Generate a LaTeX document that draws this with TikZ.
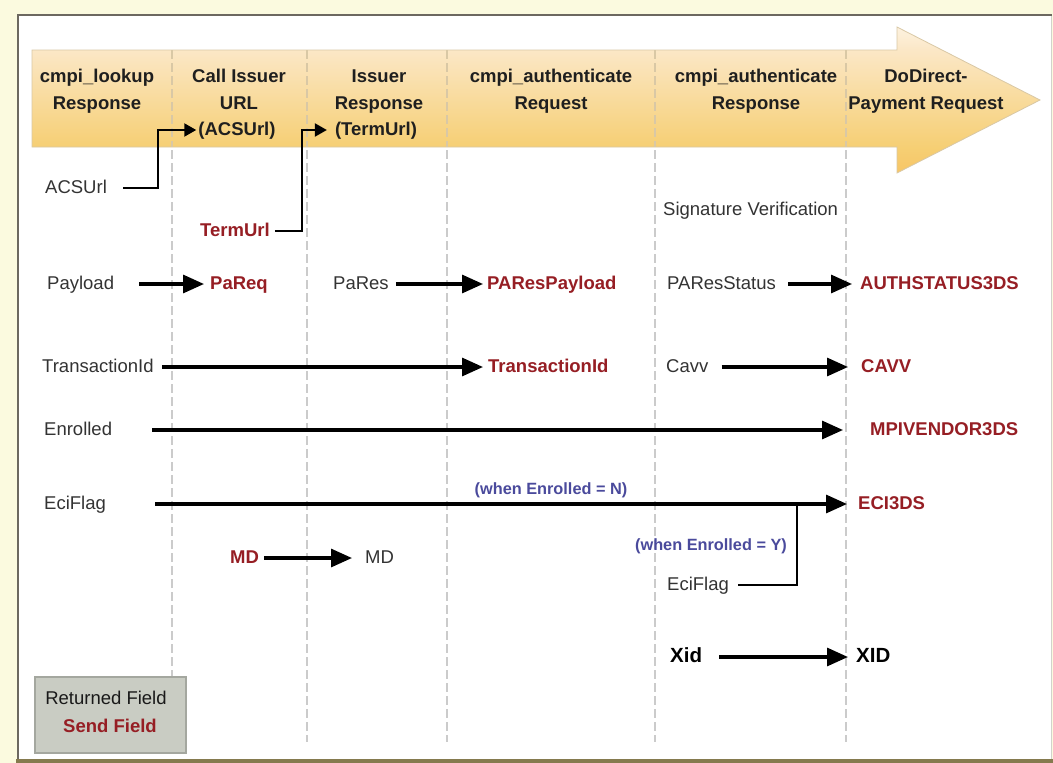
\documentclass[tikz,border=0pt]{standalone}
\usepackage{fontspec}
\setmainfont{Liberation Sans}
\usetikzlibrary{arrows.meta}

\definecolor{pagebg}{HTML}{FBFADF}
\definecolor{framedark}{HTML}{6C6860}
\definecolor{frameolive}{HTML}{857A4E}
\definecolor{frameright}{HTML}{D2D2CC}
\definecolor{sendred}{HTML}{961E24}
\definecolor{notebl}{HTML}{4A4A9C}
\definecolor{labelgray}{HTML}{333333}
\definecolor{divgray}{HTML}{CBCBCB}
\definecolor{bandtop}{HTML}{FBE7C6}
\definecolor{bandbot}{HTML}{F6CF74}
\definecolor{bandedge}{HTML}{D9C8A5}
\definecolor{legendfill}{HTML}{C9CCC3}
\definecolor{legenddraw}{HTML}{A4A79F}

% vertical shading of the process arrow: golden at the bottom, pale peach on top
\pgfdeclareverticalshading{bandshade}{100bp}{%
  color(0bp)=(bandbot!88!orange); color(25bp)=(bandbot!88!orange);
  color(33.9bp)=(bandbot); color(67.1bp)=(bandtop);
  color(75bp)=(bandtop!55!white); color(100bp)=(bandtop!55!white)}

\tikzset{
  lbl/.style={font=\fontsize{18.5}{22}\selectfont, text=labelgray,
    inner sep=0pt, text height=13.5pt, text depth=3.5pt, anchor=west},
  snd/.style={lbl, text=sendred, font=\fontsize{18.5}{22}\selectfont\bfseries},
  big/.style={lbl, text=black, font=\fontsize{20.5}{24}\selectfont\bfseries,
    text height=14.5pt, text depth=4pt},
  hdr/.style={font=\fontsize{18.5}{22}\selectfont\bfseries, text=black!88,
    inner sep=0pt, text height=13.5pt, text depth=3.5pt},
  note/.style={font=\fontsize{16.3}{20}\selectfont\bfseries, text=notebl,
    inner sep=0pt, text height=12pt, text depth=3.5pt},
  flow/.style={line width=3.2pt, -{Triangle[length=21pt,width=18pt]}},
  link/.style={line width=2.2pt, -{Triangle[length=12pt,width=13pt]}},
  joinline/.style={line width=2.2pt},
  divline/.style={line width=1.3pt, divgray, dash pattern=on 9pt off 4pt},
  divband/.style={line width=1.1pt, bandedge, dash pattern=on 9pt off 4pt},
}

\begin{document}
\begin{tikzpicture}[x=1pt, y=-1pt]
\useasboundingbox (0,0) rectangle (1053,763);

% page and frame
\fill[pagebg] (0,0) rectangle (1053,763);
\fill[white] (18,15) rectangle (1051,759);
\draw[frameright, line width=1pt] (1051,15) -- (1051,759);
\draw[frameolive, line width=4pt] (16,760.5) -- (1053,760.5);
\draw[framedark, line width=2.5pt] (18,759) -- (18,15) -- (1052,15);

% process arrow
\shade[shading=bandshade, draw=bandedge, line width=0.8pt]
  (32,50) -- (897,50) -- (897,27) -- (1040,100) -- (897,173)
  -- (897,147) -- (32,147) -- cycle;

% column dividers
\foreach \cx in {172,307,447,655,846} {
  \draw[divband] (\cx,50) -- (\cx,147);
  \draw[divline] (\cx,150) -- (\cx,742);
}

% column headings
\node[hdr] (h1a) at (97,77)  {cmpi\_lookup};
\node[hdr] (h1b) at (97,104) {Response};
\node[hdr] (h2a) at (239,77)  {Call Issuer};
\node[hdr] (h2b) at (239,104) {URL};
\node[hdr] (h2c) at (237,130) {(ACSUrl)};
\node[hdr] (h3a) at (379,77)  {Issuer};
\node[hdr] (h3b) at (379,104) {Response};
\node[hdr] (h3c) at (376,130) {(TermUrl)};
\node[hdr] (h4a) at (551,77)  {cmpi\_authenticate};
\node[hdr] (h4b) at (551,104) {Request};
\node[hdr] (h5a) at (756,77)  {cmpi\_authenticate};
\node[hdr] (h5b) at (756,104) {Response};
\node[hdr] (h6a) at (926,77)  {DoDirect-};
\node[hdr] (h6b) at (926,104) {Payment Request};

% fields
\node[lbl] (acsurl)   at (45,188)  {ACSUrl};
\node[snd] (termurl)  at (200,231) {TermUrl};
\node[lbl] (sigver)   at (663,210) {Signature Verification};

\node[lbl] (payload)  at (47,284)  {Payload};
\node[snd] (pareq)    at (210,284) {PaReq};
\node[lbl] (pares)    at (333,284) {PaRes};
\node[snd] (parespl)  at (487,284) {PAResPayload};
\node[lbl] (resstat)  at (667,284) {PAResStatus};
\node[snd] (authst)   at (860,284) {AUTHSTATUS3DS};

\node[lbl] (txid)     at (42,367)  {TransactionId};
\node[snd] (txidsend) at (488,367) {TransactionId};
\node[lbl] (cavv)     at (666,367) {Cavv};
\node[snd] (cavvsend) at (861,367) {CAVV};

\node[lbl] (enrolled) at (44,430)  {Enrolled};
\node[snd] (mpivend)  at (870,430) {MPIVENDOR3DS};

\node[lbl] (eciflag)  at (44,504)  {EciFlag};
\node[snd] (eci3ds)   at (858,504) {ECI3DS};
\node[note] (noten)   at (551,490) {(when Enrolled = N)};
\node[note] (notey)   at (711,546) {(when Enrolled = Y)};
\node[lbl] (eciflagy) at (667,585) {EciFlag};

\node[snd] (mdsend)   at (230,558) {MD};
\node[lbl] (mdret)    at (365,558) {MD};

\node[big] (xid)      at (670,657) {Xid};
\node[big] (xidsend)  at (856,657) {XID};

% bend points of the elbow connectors
\coordinate (acsbend)  at (158,188);
\coordinate (termbend) at (302,231);
\coordinate (ecijoin)  at (797,504);

% connectors
\draw[link, shorten <=16pt, shorten >=2pt] (acsurl.east) -- (acsbend) |- (h2c.west);
\draw[link, shorten <=5pt, shorten >=8pt] (termurl.east) -- (termbend) |- (h3c.west);

\draw[flow, shorten <=25pt, shorten >=6pt]  (payload.east) -- (pareq.west);
\draw[flow, shorten <=7pt,  shorten >=4pt]  (pares.east)   -- (parespl.west);
\draw[flow, shorten <=12pt, shorten >=8pt]  (resstat.east) -- (authst.west);
\draw[flow, shorten <=8pt,  shorten >=5pt]  (txid.east)    -- (txidsend.west);
\draw[flow, shorten <=13pt, shorten >=13pt] (cavv.east)    -- (cavvsend.west);
\draw[flow, shorten <=40pt, shorten >=27pt] (enrolled.east) -- (mpivend.west);
\draw[flow, shorten <=49pt, shorten >=11pt] (eciflag.east)  -- (eci3ds.west);
\draw[joinline, shorten <=9pt] (eciflagy.east) -| (ecijoin);
\draw[flow, shorten <=5pt,  shorten >=13pt] (mdsend.east)  -- (mdret.west);
\draw[flow, shorten <=17pt, shorten >=8pt]  (xid.east)     -- (xidsend.west);

% legend
\node[draw=legenddraw, fill=legendfill, line width=1.5pt, inner sep=0pt,
  minimum width=151pt, minimum height=76pt] (legend) at (110.5,715) {};
\node[lbl, anchor=center, text=black!90] (legret) at (106,699) {Returned Field};
\node[snd, anchor=center] (legsnd) at (110,727) {Send Field};
\end{tikzpicture}
\end{document}
